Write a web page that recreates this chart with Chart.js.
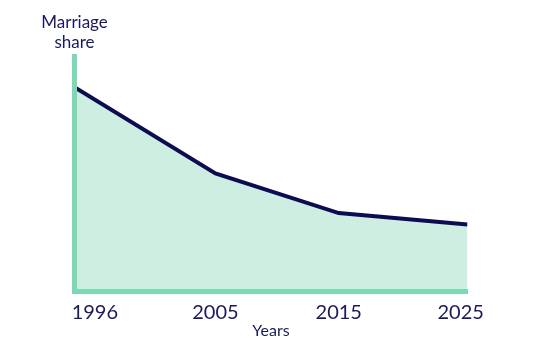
<!DOCTYPE html>
<html lang="en">
<head>
  <meta charset="UTF-8" />
  <title>Marriage share</title>
  <script src="https://cdn.jsdelivr.net/npm/chart.js"></script>
  <style>
    html, body { margin: 0; padding: 0; background: #ffffff; }
    #wrap { width: 560px; height: 350px; }
  </style>
</head>
<body>
  <div id="wrap"><canvas id="chart"></canvas></div>

  <script>
    // Values (no y ticks shown, so share is on a 0-100 scale)
    const years = [1996, 2006.4, 2015.5, 2025];
    const share = [86.8, 50.2, 33.4, 28.5];
    const tickLabels = ['1996', '2005', '2015', '2025'];
    const tickYears = [1997.5, 2006.4, 2015.5, 2024.5];

    const navy = '#0c0c52';
    const textNavy = '#191a5c';
    const mint = '#7dd9b5';
    const mintFill = '#cdeee0';

    // two-line axis title above the y axis
    const yTitle = {
      id: 'yTitle',
      afterDraw(chart) {
        const { ctx, chartArea } = chart;
        ctx.save();
        ctx.font = '17px Lato';
        ctx.fillStyle = textNavy;
        ctx.textAlign = 'center';
        ctx.textBaseline = 'alphabetic';
        ctx.fillText('Marriage', chartArea.left, chartArea.top - 28);
        ctx.fillText('share', chartArea.left, chartArea.top - 8);
        ctx.restore();
      }
    };

    new Chart(document.getElementById('chart'), {
      type: 'line',
      data: {
        datasets: [{
          data: years.map((y, i) => ({ x: y, y: share[i] })),
          borderColor: navy,
          borderWidth: 4,
          backgroundColor: mintFill,
          fill: 'origin',
          tension: 0,
          pointRadius: 0
        }]
      },
      options: {
        responsive: true,
        maintainAspectRatio: false,
        animation: false,
        layout: { padding: { left: 74.5, right: 92.5, top: 56, bottom: 0 } },
        plugins: {
          legend: { display: false },
          tooltip: { enabled: false }
        },
        scales: {
          x: {
            type: 'linear',
            min: 1996,
            max: 2025,
            grid: { display: false, drawTicks: false },
            border: { display: true, color: mint, width: 5, z: 1 },
            afterBuildTicks: axis => { axis.ticks = tickYears.map(v => ({ value: v })); },
            ticks: {
              padding: 9,
              color: textNavy,
              font: { family: 'Lato', size: 20 },
              maxRotation: 0,
              callback: (v, i) => tickLabels[i]
            },
            title: {
              display: true,
              text: 'Years',
              color: textNavy,
              font: { family: 'Lato', size: 16 },
              padding: { top: -12.5, bottom: 9.5 }
            }
          },
          y: {
            min: 0,
            max: 100,
            grid: { display: false, drawTicks: false },
            border: { display: true, color: mint, width: 5, z: 1 },
            ticks: { display: false }
          }
        }
      },
      plugins: [yTitle]
    });
  </script>
</body>
</html>
